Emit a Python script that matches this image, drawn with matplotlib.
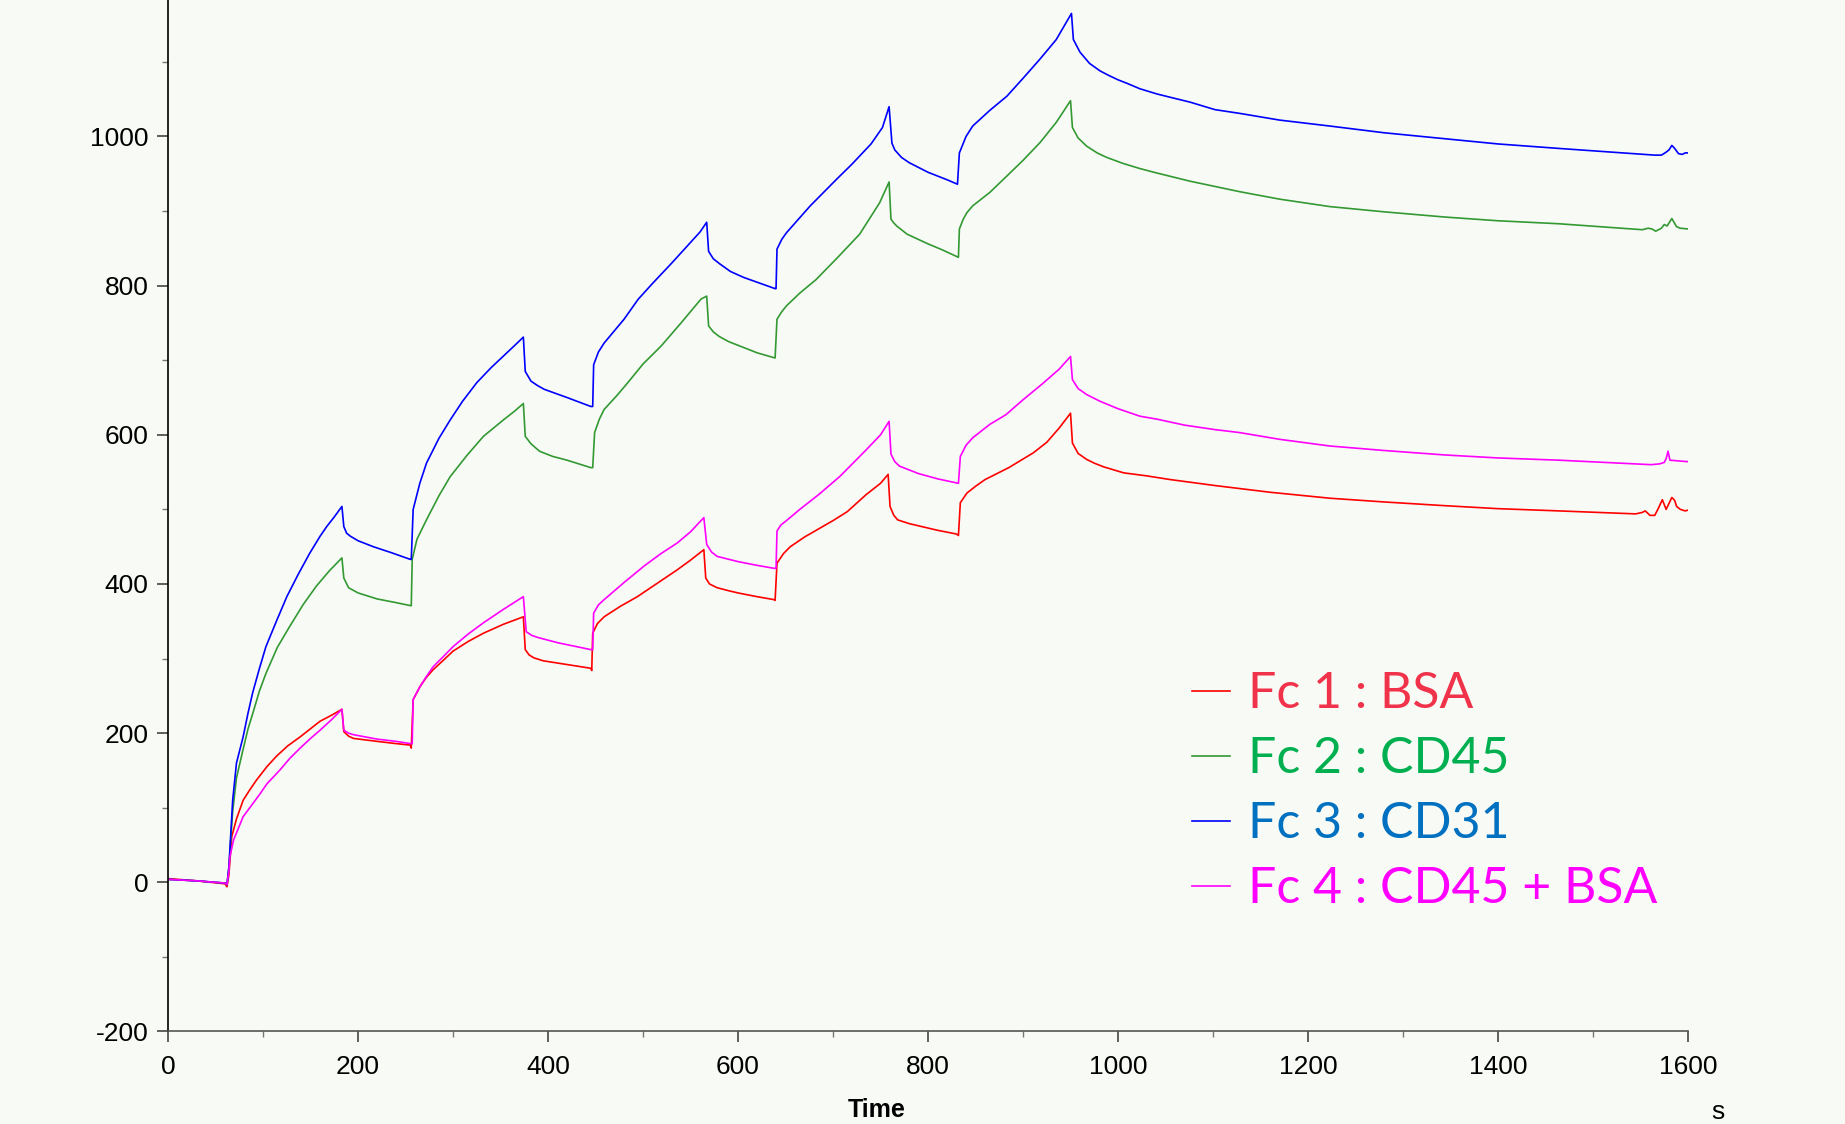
import matplotlib
matplotlib.use("Agg")
import matplotlib.pyplot as plt
from matplotlib.ticker import MultipleLocator

plt.rcParams["axes.unicode_minus"] = False

# Fc 1 : BSA
t_fc1 = [0, 30, 60, 62, 64, 67, 72, 79, 86, 93, 104, 114, 126, 139, 150, 160, 172, 183,
         185, 190, 195, 220, 240, 255, 256, 258, 265, 272, 279, 290, 300, 316, 332, 353, 374,
         376, 380, 385, 395, 410, 445, 446, 447, 452, 459, 476, 494, 515, 536, 550, 564,
         566, 570, 578, 590, 600, 620, 638, 639, 641, 648, 655, 670, 685, 700, 715, 735, 750, 758,
         760, 764, 768, 780, 790, 810, 830, 832, 834, 841, 850, 860, 885, 911, 925, 938, 950,
         952, 958, 967, 975, 985, 1006, 1030, 1055, 1102, 1160, 1223, 1280, 1344, 1400, 1464,
         1545, 1552, 1555, 1560, 1565, 1569, 1573, 1577, 1580, 1583, 1586, 1588, 1592, 1597, 1600]
r_fc1 = [5, 2, -2, -6, 10, 61, 85, 110, 124, 137, 155, 169, 183, 195, 206, 216, 224, 232,
         202, 196, 193, 189, 186, 184, 180, 245, 262, 275, 285, 298, 310, 323, 334, 346, 356,
         312, 305, 301, 297, 294, 287, 284, 334, 347, 356, 370, 383, 401, 419, 432, 446,
         408, 400, 395, 391, 388, 383, 379, 378, 428, 441, 450, 463, 474, 485, 497, 520, 535, 547,
         504, 492, 486, 481, 478, 472, 467, 465, 509, 522, 531, 540, 556, 576, 590, 609, 629,
         589, 575, 567, 562, 557, 549, 545, 540, 532, 523, 515, 510, 505, 501, 498,
         494, 496, 498, 492, 492, 502, 513, 500, 508, 516, 512, 504, 500, 498, 499]

# Fc 2 : CD45
t_fc2 = [0, 30, 60, 62, 64, 68, 72, 78, 84, 90, 96, 103, 115, 128, 142, 156, 170, 183,
         185, 190, 200, 220, 240, 255, 256, 257, 262, 272, 285, 297, 315, 332, 353, 365, 374,
         376, 382, 391, 405, 420, 445, 447, 449, 454, 459, 472, 484, 500, 519, 540, 561, 567,
         569, 574, 580, 590, 600, 620, 639, 641, 646, 651, 665, 682, 705, 728, 740, 749, 759,
         761, 764, 767, 778, 800, 815, 832, 833, 837, 841, 847, 865, 883, 900, 918, 935, 950,
         952, 958, 967, 978, 988, 1005, 1023, 1041, 1076, 1102, 1128, 1170, 1223, 1280, 1344,
         1400, 1464, 1552, 1558, 1562, 1566, 1572, 1575, 1578, 1583, 1588, 1592, 1600]
r_fc2 = [4, 2, -1, -3, 20, 95, 140, 173, 205, 230, 256, 280, 315, 343, 372, 397, 418, 435,
         408, 395, 388, 380, 375, 371, 371, 433, 460, 486, 518, 544, 573, 598, 620, 632, 642,
         598, 588, 578, 571, 566, 556, 556, 603, 621, 634, 652, 670, 695, 719, 750, 782, 786,
         746, 738, 732, 725, 720, 710, 703, 755, 765, 773, 790, 808, 838, 869, 893, 911, 939,
         889, 884, 880, 869, 856, 848, 838, 876, 889, 898, 907, 925, 947, 968, 992, 1019, 1048,
         1012, 998, 987, 978, 972, 964, 957, 951, 940, 933, 926, 916, 906, 899, 892,
         887, 883, 875, 877, 876, 873, 877, 882, 880, 890, 879, 877, 876]

# Fc 3 : CD31
t_fc3 = [0, 30, 60, 62, 64, 68, 72, 79, 84, 89, 96, 103, 114, 125, 137, 149, 160, 167, 175, 183,
         185, 188, 192, 200, 216, 235, 255, 256, 258, 265, 272, 285, 297, 310, 325, 340, 355, 365, 374,
         376, 382, 389, 396, 420, 445, 447, 448, 453, 459, 480, 495, 510, 530, 550, 560, 567,
         569, 574, 581, 592, 606, 639, 640, 641, 646, 651, 676, 704, 720, 740, 752, 759,
         762, 765, 772, 780, 800, 820, 831, 833, 840, 847, 865, 883, 900, 918, 935, 951,
         953, 960, 970, 981, 990, 1000, 1010, 1023, 1041, 1060, 1076, 1102, 1128, 1170, 1223,
         1280, 1344, 1400, 1464, 1520, 1565, 1572, 1577, 1580, 1583, 1586, 1590, 1594, 1597, 1600]
r_fc3 = [4, 2, -1, -3, 20, 110, 160, 195, 226, 254, 286, 316, 350, 383, 413, 441, 464, 477, 490, 504,
         477, 468, 464, 458, 450, 442, 433, 433, 500, 535, 562, 595, 620, 645, 670, 690, 708, 720, 731,
         685, 672, 666, 661, 650, 638, 638, 694, 711, 723, 755, 782, 803, 830, 858, 872, 885,
         846, 836, 829, 819, 811, 796, 796, 849, 862, 871, 907, 943, 963, 990, 1012, 1040,
         991, 982, 972, 965, 952, 942, 936, 978, 1000, 1014, 1035, 1054, 1078, 1104, 1130, 1165,
         1130, 1113, 1098, 1088, 1082, 1076, 1071, 1064, 1057, 1051, 1046, 1036, 1031, 1022, 1014,
         1005, 997, 990, 984, 979, 975, 975, 979, 982, 988, 984, 977, 976, 978, 978]

# Fc 4 : CD45 + BSA
t_fc4 = [0, 30, 60, 62, 64, 65, 69, 79, 86, 97, 104, 118, 128, 139, 150, 160, 172, 183,
         185, 190, 195, 220, 240, 255, 257, 258, 265, 272, 279, 290, 300, 316, 332, 353, 374,
         377, 383, 390, 411, 430, 445, 447, 448, 453, 459, 480, 501, 518, 536, 550, 564,
         567, 572, 578, 600, 620, 638, 640, 641, 645, 650, 665, 685, 707, 735, 750, 759,
         761, 765, 770, 790, 810, 832, 834, 840, 847, 865, 882, 900, 920, 938, 950,
         952, 958, 967, 981, 1000, 1023, 1041, 1070, 1102, 1128, 1170, 1223, 1280, 1344, 1400,
         1464, 1561, 1570, 1575, 1577, 1579, 1581, 1590, 1600]
r_fc4 = [4, 2, -1, -3, 15, 34, 57, 88, 100, 119, 132, 151, 166, 180, 193, 204, 218, 232,
         204, 200, 198, 192, 189, 186, 186, 245, 262, 276, 289, 303, 316, 333, 348, 366, 383,
         336, 331, 328, 321, 316, 312, 312, 361, 372, 379, 402, 424, 440, 455, 470, 489,
         453, 443, 437, 430, 425, 421, 421, 471, 479, 484, 500, 520, 544, 580, 600, 618,
         574, 564, 558, 548, 541, 535, 571, 586, 596, 614, 627, 647, 668, 688, 705,
         674, 662, 654, 645, 635, 625, 621, 613, 607, 603, 594, 585, 579, 573, 569,
         566, 560, 561, 563, 568, 578, 566, 565, 564]

labels = ["Fc 1 : BSA", "Fc 2 : CD45", "Fc 3 : CD31", "Fc 4 : CD45 + BSA"]
line_colors = ["#ff0000", "#339933", "#0000ff", "#ff00ff"]
text_colors = ["#f0334a", "#00b050", "#0070c0", "#ff00ff"]

bg = "#f8faf5"
fig = plt.figure(figsize=(18.45, 11.24), dpi=100, facecolor=bg)
ax = fig.add_axes([0.0911, 0.0823, 0.8238, 0.9177])
ax.set_facecolor(bg)

handles = []
for t, r, c, lab in zip([t_fc1, t_fc2, t_fc3, t_fc4], [r_fc1, r_fc2, r_fc3, r_fc4],
                        line_colors, labels):
    h, = ax.plot(t, r, color=c, lw=1.2, label=lab)
    handles.append(h)

ax.set_xlim(0, 1600)
ax.set_ylim(-200, 1183)
ax.xaxis.set_major_locator(MultipleLocator(200))
ax.xaxis.set_minor_locator(MultipleLocator(100))
ax.yaxis.set_major_locator(MultipleLocator(200))
ax.yaxis.set_minor_locator(MultipleLocator(100))

for s in ["top", "right"]:
    ax.spines[s].set_visible(False)
ax.spines["left"].set_color("black")
ax.spines["left"].set_linewidth(1.2)
ax.spines["bottom"].set_color("#555555")
ax.spines["bottom"].set_linewidth(1.2)

ax.tick_params(which="major", direction="out", length=8, width=1.2, color="#444444",
               labelsize=19, pad=6)
ax.tick_params(which="minor", direction="out", length=4, width=1.0, color="#777777")
ax.tick_params(axis="x", which="major", pad=9)
for lbl in ax.get_xticklabels() + ax.get_yticklabels():
    lbl.set_fontfamily("Liberation Sans")

fig.text(877 / 1845, 1 - 1110 / 1124, "Time", ha="center", va="center",
         fontsize=18, fontweight="bold", family="Liberation Sans")
fig.text(1718 / 1845, 1 - 1112 / 1124, "s", ha="center", va="center",
         fontsize=19, family="Liberation Sans")

leg = ax.legend(handles=handles, loc="upper left", bbox_to_anchor=(1192 / 1845, 1 - 671 / 1124),
                bbox_transform=fig.transFigure, frameon=False,
                prop={"family": "Lato", "size": 36}, handlelength=0.75,
                handletextpad=0.38, labelspacing=0.38, borderpad=0, borderaxespad=0)
for txt, c in zip(leg.get_texts(), text_colors):
    txt.set_color(c)

fig.savefig("out.png", dpi=100, facecolor=bg)
